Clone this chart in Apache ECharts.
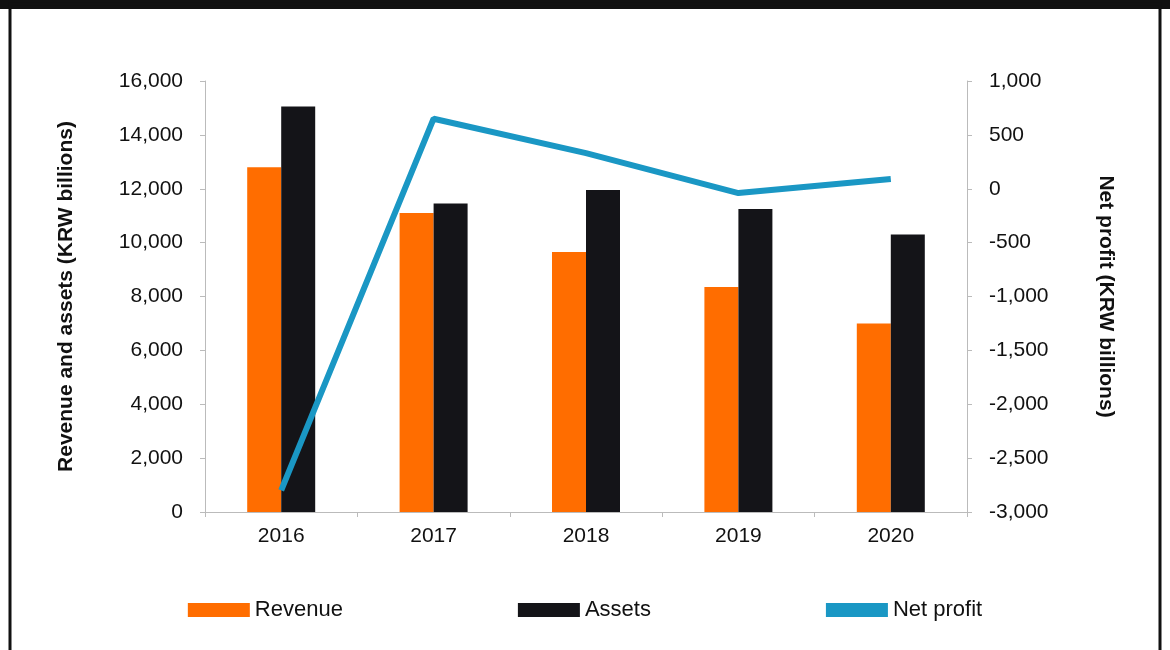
<!DOCTYPE html>
<html lang="en" style="height: 100%">
<head>
  <meta charset="utf-8">
  <title>Revenue, assets and net profit</title>
  <script src="https://cdn.jsdelivr.net/npm/echarts@6/dist/echarts.min.js"></script>
</head>
<body style="height: 100%; margin: 0; background: #fff">
  <div id="chart" style="height: 650px; width: 1170px"></div>
  <script type="text/javascript">
    const years = ['2016', '2017', '2018', '2019', '2020'];
    const revenue = [12800, 11100, 9650, 8350, 7000];
    const assets = [15050, 11450, 11950, 11250, 10300];
    const netProfit = [-2800, 650, 330, -40, 90];

    const font = 'Liberation Sans, Arial, sans-serif';
    const fmt = v => v.toLocaleString('en-US');

    const chart = echarts.init(document.getElementById('chart'));
    chart.setOption({
      animation: false,
      textStyle: { fontFamily: font },
      graphic: [
        { type: 'rect', shape: { x: 0, y: 0, width: 1170, height: 9 }, style: { fill: '#111' } },
        { type: 'rect', shape: { x: 10, y: 4, width: 1150, height: 660 }, style: { fill: 'none', stroke: '#111', lineWidth: 3 } }
      ],
      grid: { left: 205, right: 203, top: 81, bottom: 138 },
      legend: {
        bottom: 24, left: 'center', itemGap: 175, itemWidth: 62, itemHeight: 14,
        textStyle: { fontSize: 22, color: '#111' },
        data: [
          { name: 'Revenue', icon: 'rect' },
          { name: 'Assets', icon: 'rect' },
          { name: 'Net profit', icon: 'rect', itemStyle: { color: '#1a97c4' } }
        ]
      },
      xAxis: {
        type: 'category', data: years,
        axisLine: { lineStyle: { color: '#bbb' } },
        axisTick: { show: true, alignWithLabel: false, lineStyle: { color: '#bbb' } },
        axisLabel: { fontSize: 21, color: '#111', margin: 14 }
      },
      yAxis: [
        {
          type: 'value', min: 0, max: 16000, interval: 2000,
          name: 'Revenue and assets (KRW billions)', nameLocation: 'middle', nameGap: 128,
          nameTextStyle: { fontSize: 21, fontWeight: 'bold', color: '#111' },
          axisLine: { show: true, lineStyle: { color: '#bbb' } },
          axisTick: { show: true, lineStyle: { color: '#bbb' } },
          splitLine: { show: false },
          axisLabel: { fontSize: 21, color: '#111', formatter: fmt, margin: 22 }
        },
        {
          type: 'value', min: -3000, max: 1000, interval: 500,
          name: 'Net profit (KRW billions)', nameLocation: 'middle', nameGap: 128, nameRotate: -90,
          nameTextStyle: { fontSize: 21, fontWeight: 'bold', color: '#111' },
          axisLine: { show: true, lineStyle: { color: '#bbb' } },
          axisTick: { show: true, lineStyle: { color: '#bbb' } },
          splitLine: { show: false },
          axisLabel: { fontSize: 21, color: '#111', formatter: fmt, margin: 22 }
        }
      ],
      series: [
        { name: 'Revenue', type: 'bar', data: revenue, barWidth: 34, barGap: '0%', itemStyle: { color: '#ff6d00' } },
        { name: 'Assets', type: 'bar', data: assets, barWidth: 34, itemStyle: { color: '#141418' } },
        { name: 'Net profit', type: 'line', yAxisIndex: 1, data: netProfit, showSymbol: false,
          lineStyle: { width: 6, color: '#1a97c4' }, itemStyle: { color: '#1a97c4' } }
      ]
    });
  </script>
</body>
</html>
